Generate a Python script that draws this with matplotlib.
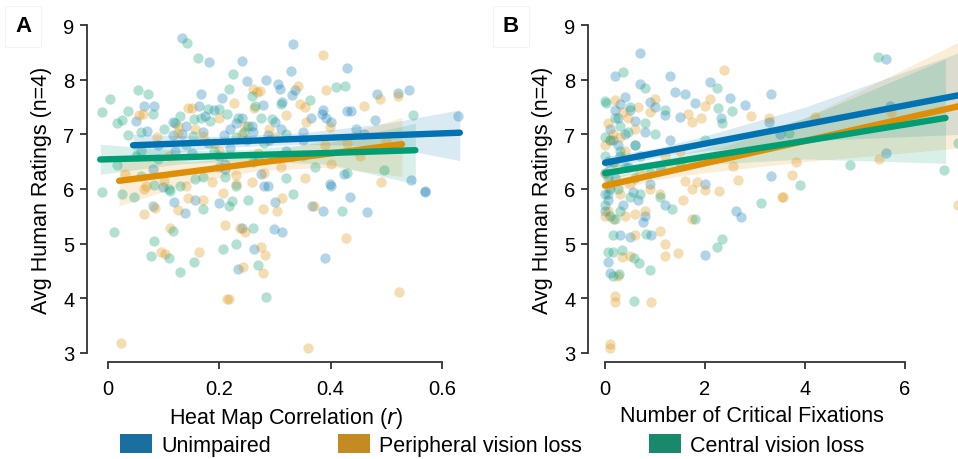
import matplotlib
matplotlib.use("Agg")
import matplotlib.pyplot as plt
import numpy as np
from matplotlib.patches import Patch

plt.rcParams["font.family"] = ["Liberation Sans", "DejaVu Sans"]

colors = {"Unimpaired": "#0173b2", "Peripheral vision loss": "#de8f05", "Central vision loss": "#029e73"}
legend_colors = {"Unimpaired": "#1b6fa0", "Peripheral vision loss": "#c68a22", "Central vision loss": "#188a6b"}
groups = ["Unimpaired", "Peripheral vision loss", "Central vision loss"]

# ---- panel A: heat map correlation vs rating ----
a_blue = [(0.133, 8.76), (0.181, 8.32), (0.240, 8.34), (0.249, 7.98), (0.283, 8.0), (0.167, 7.73), (0.205, 7.66),
          (0.065, 7.52), (0.082, 7.52), (0.050, 7.24), (0.163, 7.51), (0.279, 7.54), (0.305, 7.92), (0.309, 7.83),
          (0.312, 7.59), (0.116, 7.22), (0.174, 7.34), (0.258, 7.16), (0.30, 7.23), (0.070, 7.06), (0.116, 6.98),
          (0.133, 7.0), (0.209, 6.98), (0.288, 6.98), (0.08, 6.37), (0.098, 6.03), (0.21, 6.37), (0.274, 6.27),
          (0.287, 6.06), (0.333, 8.65), (0.328, 8.15), (0.429, 8.21), (0.336, 7.82), (0.33, 7.72), (0.483, 7.74),
          (0.52, 7.76), (0.540, 7.82), (0.387, 7.45), (0.384, 7.38), (0.392, 7.30), (0.43, 7.42), (0.436, 7.42),
          (0.364, 7.29), (0.48, 7.27), (0.628, 7.33), (0.445, 7.10), (0.424, 6.27), (0.544, 6.16), (0.399, 6.09),
          (0.57, 5.97), (0.081, 5.69), (0.119, 5.76), (0.138, 5.56), (0.156, 5.80), (0.199, 5.74), (0.28, 6.05),
          (0.30, 5.76), (0.240, 5.28), (0.299, 5.27), (0.312, 5.22), (0.262, 4.90), (0.234, 4.54), (0.366, 5.68),
          (0.387, 5.60), (0.435, 5.85), (0.466, 5.58), (0.569, 5.95), (0.40, 6.06), (0.389, 4.74), (0.18, 6.85),
          (0.22, 6.75), (0.25, 6.9), (0.15, 6.65), (0.32, 6.7), (0.35, 6.9), (0.27, 6.55), (0.2, 6.6), (0.24, 7.3),
          (0.22, 7.1), (0.19, 7.45), (0.26, 7.05), (0.14, 7.15), (0.35, 7.05), (0.40, 7.22), (0.12, 6.7),
          (0.29, 6.9), (0.46, 7.0), (0.17, 7.05), (0.23, 7.2), (0.09, 6.8), (0.31, 7.1), (0.21, 6.45)]
a_orange = [(0.056, 7.35), (0.062, 7.37), (0.144, 7.48), (0.150, 7.49), (0.226, 7.57), (0.260, 7.83), (0.267, 7.77),
            (0.273, 7.80), (0.262, 7.49), (0.126, 7.16), (0.156, 7.10), (0.200, 7.29), (0.246, 7.15), (0.126, 7.03),
            (0.088, 6.96), (0.17, 6.97), (0.24, 7.0), (0.30, 6.95), (0.030, 6.27), (0.069, 6.06), (0.10, 6.15),
            (0.14, 6.05), (0.186, 6.12), (0.23, 6.25), (0.258, 6.12), (0.28, 6.3), (0.23, 6.1), (0.386, 8.45),
            (0.341, 7.88), (0.392, 7.81), (0.345, 7.55), (0.354, 7.50), (0.488, 7.65), (0.460, 7.51), (0.356, 7.22),
            (0.399, 7.14), (0.32, 7.35), (0.389, 6.81), (0.43, 6.85), (0.354, 6.21), (0.49, 6.13), (0.453, 6.60),
            (0.065, 6.0), (0.085, 5.66), (0.065, 5.54), (0.126, 5.62), (0.143, 5.84), (0.170, 5.80), (0.207, 5.93),
            (0.279, 5.63), (0.304, 5.59), (0.111, 5.28), (0.211, 5.35), (0.237, 5.29), (0.246, 5.22), (0.096, 4.84),
            (0.102, 4.81), (0.164, 4.85), (0.275, 4.93), (0.282, 4.80), (0.242, 4.58), (0.279, 4.47), (0.213, 3.99),
            (0.217, 3.99), (0.024, 3.18), (0.313, 5.84), (0.37, 5.69), (0.427, 5.11), (0.523, 4.11), (0.36, 3.10),
            (0.31, 6.4), (0.2, 6.7), (0.35, 6.6), (0.27, 6.65), (0.5, 6.9), (0.52, 7.7), (0.19, 6.85),
            (0.29, 7.1), (0.11, 6.6), (0.4, 6.45)]
a_green = [(0.141, 8.68), (0.161, 8.40), (0.224, 8.10), (0.218, 7.83), (0.054, 7.81), (0.072, 7.73), (0.004, 7.65),
           (-0.01, 7.40), (0.035, 7.43), (0.080, 7.37), (0.026, 7.26), (0.016, 7.21), (0.180, 7.46), (0.258, 7.71),
           (0.264, 7.51), (0.31, 7.55), (0.130, 7.34), (0.155, 7.28), (0.167, 7.29), (0.183, 7.25), (0.213, 7.37),
           (0.200, 7.46), (0.234, 7.29), (0.252, 7.16), (0.275, 7.29), (0.294, 7.28), (0.059, 7.04), (0.035, 6.99),
           (0.101, 7.10), (0.153, 6.97), (0.23, 6.95), (0.32, 7.0), (-0.01, 5.94), (0.016, 6.43), (0.06, 6.24),
           (0.083, 6.08), (0.11, 6.0), (0.13, 6.05), (0.156, 6.19), (0.17, 6.22), (0.21, 6.22), (0.23, 6.05),
           (0.32, 6.2), (0.426, 7.88), (0.363, 7.62), (0.548, 7.35), (0.371, 6.40), (0.496, 6.35), (0.026, 5.90),
           (0.047, 5.85), (0.111, 5.97), (0.171, 5.64), (0.218, 5.68), (0.223, 5.78), (0.251, 5.79), (0.011, 5.21),
           (0.083, 5.04), (0.116, 5.23), (0.26, 5.28), (0.078, 4.78), (0.109, 4.73), (0.207, 4.91), (0.230, 4.99),
           (0.154, 4.66), (0.129, 4.49), (0.27, 4.61), (0.283, 4.02), (0.333, 5.90), (0.42, 5.59), (0.09, 6.55),
           (0.19, 6.7), (0.26, 6.5), (0.33, 6.6), (0.28, 6.85), (0.14, 6.8), (0.06, 6.7), (0.41, 7.87), (0.43, 6.3),
           (0.12, 7.2), (0.245, 7.05), (0.2, 6.4), (0.05, 6.6)]

# fitted lines and CI band edges
a_fit_x = {"Unimpaired": [0.045, 0.2, 0.35, 0.5, 0.632],
           "Peripheral vision loss": [0.02, 0.15, 0.27, 0.4, 0.528],
           "Central vision loss": [-0.014, 0.13, 0.25, 0.4, 0.552]}
a_fit_y = {"Unimpaired": [6.80, 6.86, 6.92, 6.98, 7.03],
           "Peripheral vision loss": [6.15, 6.32, 6.48, 6.65, 6.82],
           "Central vision loss": [6.54, 6.58, 6.62, 6.66, 6.71]}
a_ci_hi = {"Unimpaired": [7.0, 6.96, 7.03, 7.2, 7.45],
           "Peripheral vision loss": [6.6, 6.5, 6.62, 6.92, 7.31],
           "Central vision loss": [6.82, 6.7, 6.72, 6.86, 7.2]}
a_ci_lo = {"Unimpaired": [6.58, 6.76, 6.82, 6.78, 6.52],
           "Peripheral vision loss": [5.69, 6.12, 6.34, 6.4, 6.23],
           "Central vision loss": [6.27, 6.46, 6.52, 6.45, 6.09]}

# ---- panel B: number of critical fixations vs rating ----
b_blue = [(0.70, 8.48), (0.20, 8.07), (1.30, 8.06), (0.70, 7.92), (2.1, 7.96), (3.31, 7.73), (1.40, 7.77),
          (1.60, 7.73), (1.80, 7.58), (2.50, 7.66), (2.80, 7.53), (2.32, 7.30), (1.50, 7.31), (0.40, 7.69),
          (0.30, 7.55), (0.50, 7.45), (0.9, 7.6), (1.0, 7.5), (0.25, 7.3), (0.6, 7.25), (0.8, 7.05), (1.2, 7.35),
          (3.27, 7.22), (3.31, 6.23), (0.9, 6.1), (5.61, 8.38), (5.70, 7.51), (5.61, 6.65), (2.61, 5.60),
          (2.71, 5.48), (2.0, 4.80), (1.20, 5.70), (0.30, 5.15), (0.5, 5.13), (0.92, 5.15), (0.05, 4.66),
          (0.10, 4.47), (0.0, 5.9), (0.05, 5.8), (0.1, 6.0), (0.2, 6.2), (0.3, 6.6), (0.45, 6.4), (0.6, 6.8),
          (0.15, 6.9), (0.1, 7.1), (0.05, 6.5), (0.35, 5.7), (0.65, 5.8), (0.8, 5.5), (1.1, 6.4), (1.3, 6.9),
          (2.0, 6.1), (3.5, 7.0), (0.75, 5.4), (0.55, 5.95), (0.2, 7.45), (0.0, 6.3), (0.4, 7.0), (0.0, 5.6),
          (0.25, 6.8)]
b_orange = [(2.37, 8.18), (2.10, 7.64), (2.0, 7.52), (2.92, 7.34), (1.73, 7.23), (1.92, 7.29), (1.65, 7.37),
            (1.0, 7.64), (0.19, 7.63), (0.9, 7.4), (0.6, 7.1), (0.1, 6.9), (0.05, 7.2), (0.3, 6.95), (0.45, 7.3),
            (3.27, 7.3), (2.55, 6.42), (2.65, 6.16), (1.83, 6.12), (1.6, 6.15), (2.28, 5.97), (1.73, 6.0),
            (2.0, 5.98), (1.55, 5.79), (3.53, 5.86), (1.73, 5.46), (1.10, 5.23), (1.19, 5.0), (1.19, 4.77),
            (1.45, 4.83), (0.91, 3.93), (0.19, 4.04), (0.19, 3.93), (0.10, 3.16), (0.10, 3.10), (0.5, 4.78),
            (0.33, 4.75), (0.25, 4.4), (0.6, 5.15), (4.19, 7.31), (3.82, 6.50), (3.73, 6.25), (3.55, 5.86),
            (5.47, 6.55), (5.72, 7.4), (7.06, 5.71), (0.0, 5.5), (0.05, 5.6), (0.15, 5.45), (0.4, 5.5), (0.6, 5.55),
            (0.8, 5.6), (0.3, 5.9), (0.0, 6.3), (0.1, 6.1), (0.2, 6.5), (0.7, 6.3), (0.9, 6.0), (1.1, 5.9),
            (0.4, 6.7), (1.2, 6.6), (0.65, 7.5), (0.35, 7.4), (1.5, 6.7), (0.0, 6.8), (0.15, 7.0), (0.5, 6.1)]
b_green = [(0.35, 8.14), (0.79, 7.84), (2.23, 7.85), (2.25, 7.49), (2.53, 7.42), (2.33, 7.20), (0.0, 7.61),
           (0.02, 7.58), (0.2, 7.3), (0.5, 7.5), (0.8, 7.2), (1.0, 7.0), (1.2, 7.45), (0.1, 6.9), (0.3, 6.7),
           (0.6, 6.8), (0.15, 6.5), (0.05, 6.2), (0.4, 6.4), (0.7, 6.6), (0.9, 6.3), (3.11, 5.75), (1.79, 5.46),
           (1.33, 5.64), (2.23, 4.94), (2.34, 5.09), (0.89, 4.52), (0.57, 3.95), (0.33, 4.89), (0.57, 4.73),
           (0.67, 4.65), (0.05, 4.84), (0.15, 4.84), (0.27, 4.45), (0.15, 4.4), (0.15, 5.15), (0.82, 5.18),
           (0.05, 5.9), (0.0, 5.7), (0.1, 5.5), (0.3, 5.6), (0.5, 5.85), (0.7, 5.9), (0.25, 6.0), (1.1, 5.85),
           (3.68, 7.03), (5.45, 8.42), (3.90, 6.08), (4.89, 6.44), (6.78, 6.34), (7.06, 6.85), (1.5, 6.5),
           (2.0, 6.9), (0.45, 7.05), (0.0, 6.6), (0.2, 5.45), (0.0, 6.95), (0.3, 7.15), (0.6, 6.2)]

b_fit_x = {"Unimpaired": [0, 1, 2, 4, 7.1],
           "Peripheral vision loss": [0, 1, 2, 4, 7.1],
           "Central vision loss": [0, 1, 2, 4, 6.81]}
b_fit_y = {"Unimpaired": [6.48, 6.655, 6.83, 7.18, 7.72],
           "Peripheral vision loss": [6.06, 6.265, 6.47, 6.88, 7.52],
           "Central vision loss": [6.29, 6.44, 6.59, 6.88, 7.30]}
b_ci_hi = {"Unimpaired": [6.6, 6.74, 6.97, 7.5, 8.5],
           "Peripheral vision loss": [6.2, 6.36, 6.65, 7.3, 8.7],
           "Central vision loss": [6.41, 6.52, 6.75, 7.3, 8.38]}
b_ci_lo = {"Unimpaired": [6.36, 6.57, 6.7, 6.88, 7.0],
           "Peripheral vision loss": [5.92, 6.17, 6.3, 6.5, 6.75],
           "Central vision loss": [6.17, 6.36, 6.45, 6.55, 6.47]}

fig = plt.figure(figsize=(9.58, 4.6), dpi=100)
W, H = 958, 460


def px_axes(left, right, top, bottom):
    return fig.add_axes([left / W, 1 - bottom / H, (right - left) / W, (bottom - top) / H])


axA = px_axes(96, 476, 23.3, 356.7)
axB = px_axes(597, 906, 23.3, 356.7)

panels = [
    (axA, {"Unimpaired": a_blue, "Peripheral vision loss": a_orange, "Central vision loss": a_green},
     a_fit_x, a_fit_y, a_ci_lo, a_ci_hi, (-0.0216, 0.661), [0, 0.2, 0.4, 0.6], ["0", "0.2", "0.4", "0.6"],
     "Heat Map Correlation ($\\it{r}$)"),
    (axB, {"Unimpaired": b_blue, "Peripheral vision loss": b_orange, "Central vision loss": b_green},
     b_fit_x, b_fit_y, b_ci_lo, b_ci_hi, (-0.16, 6.02), [0, 2, 4, 6], ["0", "2", "4", "6"],
     "Number of Critical Fixations"),
]

for ax, pts, fx, fy, lo, hi, xlim, xt, xtl, xlabel in panels:
    for g in groups:
        ax.fill_between(fx[g], lo[g], hi[g], color=colors[g], alpha=0.15, lw=0, clip_on=False, zorder=1)
    for g in groups:
        xy = np.array(pts[g])
        ax.scatter(xy[:, 0], xy[:, 1], s=55, color=colors[g], alpha=0.3, lw=0, clip_on=False, zorder=2)
    for g in groups:
        ax.plot(fx[g], fy[g], color=colors[g], lw=4.6, solid_capstyle="round", clip_on=False, zorder=3)

    ax.set_xlim(*xlim)
    ax.set_ylim(2.95, 9.05)
    ax.set_xticks(xt)
    ax.set_xticklabels(xtl)
    ax.set_yticks(range(3, 10))
    for s in ["top", "right"]:
        ax.spines[s].set_visible(False)
    ax.spines["left"].set_position(("outward", 6.5))
    ax.spines["bottom"].set_position(("outward", 4.5))
    ax.spines["left"].set_bounds(3, 9)
    ax.spines["bottom"].set_bounds(xt[0], xt[-1])
    for s in ["left", "bottom"]:
        ax.spines[s].set_linewidth(1.3)
        ax.spines[s].set_color("#333333")
    ax.tick_params(direction="out", length=5, width=1.3, color="#333333", labelsize=14.5, pad=4)
    ax.tick_params(axis="x", pad=7)
    ax.set_xlabel(xlabel, fontsize=15.5, labelpad=5)
    ax.set_ylabel("Avg Human Ratings (n=4)", fontsize=15.5, labelpad=8)
    ax.patch.set_visible(False)

for x, tag in [(23, "A"), (511, "B")]:
    fig.text(x / W, 1 - 27 / H, tag, fontsize=16, fontweight="bold", ha="center", va="center",
             bbox=dict(boxstyle="square,pad=0.45", fc="white", ec="#f3f3f3", lw=0.8))

handles = [Patch(facecolor=legend_colors[g], edgecolor="none", label=g) for g in groups]
fig.legend(handles=handles, loc="center", bbox_to_anchor=(492 / W, 14 / H), ncol=3, frameon=False,
           fontsize=15.5, handlelength=1.5, handleheight=0.93, handletextpad=0.42, columnspacing=3.1)

fig.savefig("out.png", dpi=100)
